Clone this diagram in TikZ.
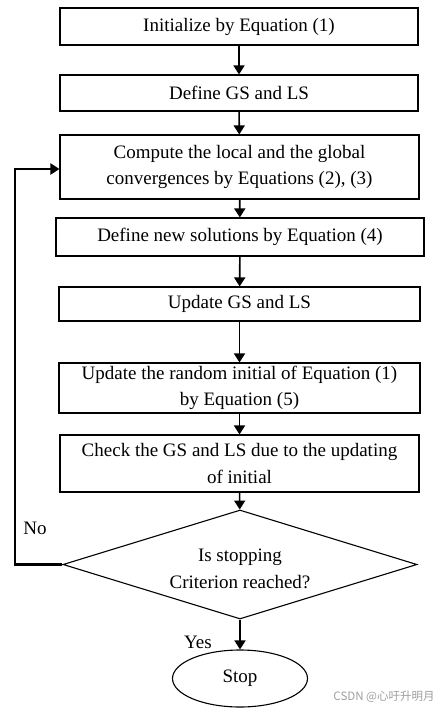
\documentclass[tikz,border=0pt]{standalone}
\usepackage{fontspec}
\setmainfont{Liberation Serif}
\newfontfamily\cjkfont{Noto Sans CJK SC}
\usetikzlibrary{shapes.geometric,arrows.meta}
\begin{document}
\begin{tikzpicture}[x=1pt,y=-1pt,
  box/.style={draw, line width=1.1pt, rectangle, inner sep=0pt, align=center,
    font=\fontsize{19}{26.5}\selectfont},
  flow/.style={line width=1.6pt, -{Triangle[width=11pt,length=9pt]}},
  loopline/.style={line width=2.4pt, -{Triangle[width=11pt,length=9pt]}},
  lbl/.style={font=\fontsize{19}{23}\selectfont, inner sep=0pt}]
\useasboundingbox[fill=white] (0,0) rectangle (439,714);
\node[box, minimum width=358pt, minimum height=37pt] (b1) at (239,26.5) {Initialize by Equation (1)};
\node[box, minimum width=358pt, minimum height=36pt] (b2) at (239,93) {Define GS and LS};
\node[box, minimum width=359pt, minimum height=64pt] (b3) at (239.5,167) {Compute the local and the global\\convergences by Equations (2), (3)};
\node[box, minimum width=368pt, minimum height=38pt] (b4) at (240,237) {Define new solutions by Equation (4)};
\node[box, minimum width=361pt, minimum height=34pt] (b5) at (239.5,304) {Update GS and LS};
\node[box, minimum width=361pt, minimum height=50pt] (b6) at (239.5,388) {Update the random initial of Equation (1)\\by Equation (5)};
\node[box, minimum width=359pt, minimum height=57pt] (b7) at (239.5,463.5) {Check the GS and LS due to the updating\\of initial};
\node[box, diamond, aspect=3.25, minimum width=354pt, minimum height=109pt] (d) at (240,564.5) {};
\node[box, draw=none, minimum width=0pt, minimum height=0pt] (dt) at (240,569) {Is stopping\\Criterion reached?};
\node[box, ellipse, minimum width=135pt, minimum height=57pt] (e) at (240,678.5) {Stop};
\node[lbl] (no) at (35,528) {No};
\node[lbl] (yes) at (198,642) {Yes};
\node[inner sep=0pt, text=gray!75, font=\cjkfont\fontsize{11.5}{13}\selectfont] (wm) at (384,697) {CSDN @心吁升明月};
\coordinate (c1) at (15,564.5);
\coordinate (c2) at (15,169);
\draw[flow] (b1) -- (b2);
\draw[flow] (b2) -- (b3);
\draw[flow] (b3) -- (b4);
\draw[flow] (b4) -- (b5);
\draw[flow] (b5) -- (b6);
\draw[flow] (b6) -- (b7);
\draw[flow] (b7) -- (d);
\draw[flow] (d) -- (e);
\draw[loopline] (d.west) -- (c1) -- (c2) -- (c2 -| b3.west);
\end{tikzpicture}
\end{document}
